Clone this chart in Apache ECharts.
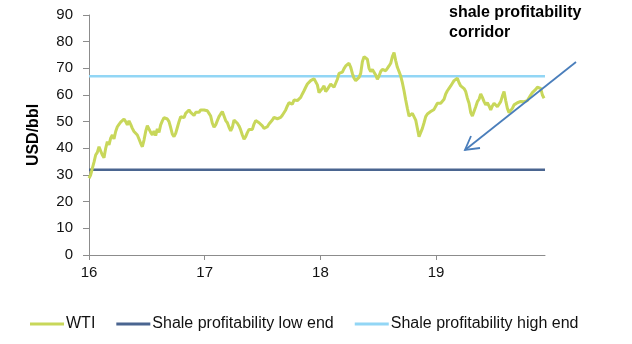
<!DOCTYPE html>
<html>
<head>
<meta charset="utf-8">
<script src="https://cdn.jsdelivr.net/npm/echarts@6/dist/echarts.min.js"></script>
<style>html,body{margin:0;padding:0;background:#fff}#c{width:632px;height:344px}</style>
</head>
<body>
<div id="c"></div>
<script>
// WTI sampled on an even grid of dates starting at the start of 2016 (axis unit = year, 16 = 2016)
var wtiStart = 16.0;
var wtiStep = 0.014406; // ~5.3 days
var wtiValues = [
28.8,30.0,32.5,34.8,37.5,38.5,40.6,41.3,37.5,36.5,40.0,42.5,41.3,43.8,45.0,43.5,46.3,48.1,49.0,49.8,
50.0,51.0,50.0,48.8,50.3,49.0,47.5,46.3,45.6,45.0,43.5,41.9,40.6,43.1,46.3,48.5,47.8,46.0,45.0,46.5,
44.8,47.3,46.0,48.8,50.3,51.5,51.9,51.0,50.0,47.8,45.3,44.4,45.6,47.8,50.0,51.9,52.3,51.5,53.1,53.8,
54.4,53.5,52.8,52.3,53.5,54.0,53.5,54.4,53.8,54.4,
54.4,54.1,53.1,52.1,49.4,47.9,48.8,50.4,51.9,52.9,53.8,52.1,50.4,49.6,47.9,46.6,47.9,50.6,50.9,49.4,
48.4,46.9,45.0,43.4,44.4,45.9,47.1,46.6,47.1,49.1,50.4,50.0,49.6,49.1,48.4,47.5,47.1,48.1,49.1,49.6,
50.6,51.6,51.9,51.1,50.6,51.6,52.4,53.1,54.4,55.9,57.1,57.1,56.6,58.1,58.8,57.9,57.9,59.1,60.4,61.6,
62.9,64.1,64.6,65.4,65.9,66.1,65.9,63.8,60.9,60.6,62.5,63.4,
61.3,62.1,61.9,64.1,64.6,62.9,63.1,65.9,68.1,68.6,68.6,69.9,70.9,71.6,71.9,70.4,68.1,66.3,65.4,65.6,
66.6,68.1,72.5,74.4,74.6,73.4,70.0,68.8,69.6,69.6,67.5,65.9,67.1,68.8,69.6,69.1,69.1,70.0,70.9,71.9,
74.4,75.9,72.9,70.4,68.8,67.1,64.6,61.6,58.1,55.0,52.1,52.1,53.1,53.1,50.6,47.5,44.4,44.0,47.5,49.6,
51.9,52.9,52.9,53.8,54.1,54.6,55.0,56.9,57.5,
56.9,57.1,58.4,60.4,61.6,62.5,63.4,64.4,65.4,65.9,66.3,64.6,63.4,62.9,62.4,61.3,58.8,56.9,53.4,52.1,
52.5,55.6,57.5,58.4,60.4,59.1,57.5,56.3,57.1,55.9,54.4,55.9,56.9,56.6,55.6,56.3,57.5,59.6,61.3,57.9,
55.0,53.4,53.8,55.0,56.3,56.9,57.1,56.6,57.6,58.1,57.5,57.1,57.9,58.4,60.0,60.9,61.3,62.1,62.9,63.6,
62.5,60.0,58.8];
var lowEnd = 32;
var highEnd = 67;
var xStart = 16, xEnd = 19.941;
var xTickLabels = ['16','17','18','19'];
var yTicks = [0,10,20,30,40,50,60,70,80,90];
var seriesNames = ['WTI','Shale profitability low end','Shale profitability high end'];
var annotation = 'shale profitability\ncorridor';
var colors = ['#c8d75a','#4a6590','#92d6f5'];

var wti = wtiValues.map(function(v,i){return [wtiStart + i*wtiStep, v];});
var chart = echarts.init(document.getElementById('c'), null, {renderer:'canvas'});
var font = 'Liberation Sans, Arial, sans-serif';
chart.setOption({
  animation:false,
  color: colors,
  grid:{left:89,right:87,top:15,bottom:89,containLabel:false},
  xAxis:{type:'value',min:xStart,max:xEnd,interval:1,
    axisLine:{lineStyle:{color:'#8c8c8c',width:1}},
    axisTick:{show:true,length:5,lineStyle:{color:'#8c8c8c'}},
    splitLine:{show:false},
    axisLabel:{color:'#111',fontSize:15,fontFamily:font,margin:10,showMaxLabel:false,
      formatter:function(v){var i=Math.round(v)-16;return xTickLabels[i]||'';}}},
  yAxis:{type:'value',min:yTicks[0],max:yTicks[yTicks.length-1],interval:10,
    name:'USD/bbl',nameLocation:'middle',nameGap:47,
    nameTextStyle:{fontWeight:'bold',fontSize:16,color:'#000',fontFamily:font},
    axisLine:{show:true,lineStyle:{color:'#8c8c8c',width:1}},
    axisTick:{show:true,length:6,lineStyle:{color:'#8c8c8c'}},
    splitLine:{show:false},
    axisLabel:{color:'#111',fontSize:15,fontFamily:font,margin:16}},
  legend:{top:311,left:25,itemWidth:34,itemHeight:3,itemGap:21,icon:'rect',
    textStyle:{fontSize:16,fontFamily:font,color:'#111',padding:[0,0,0,-3]},
    data:seriesNames},
  series:[
    {name:seriesNames[0],type:'line',data:wti,showSymbol:false,symbol:'none',lineStyle:{width:3,color:colors[0]},z:3},
    {name:seriesNames[1],type:'line',data:[[xStart,lowEnd],[xEnd,lowEnd]],symbol:'none',lineStyle:{width:2.5,color:colors[1]},z:2},
    {name:seriesNames[2],type:'line',data:[[xStart,highEnd],[xEnd,highEnd]],symbol:'none',lineStyle:{width:2.5,color:colors[2]},z:2}
  ],
  graphic:[
    {type:'text',left:449,top:3,style:{text:annotation,font:'bold 16px '+font,fill:'#000',lineHeight:20}},
    {type:'line',shape:{x1:576,y1:62,x2:465,y2:150},style:{stroke:'#4a7ebb',lineWidth:1.8},z:10},
    {type:'polyline',shape:{points:[[471,136],[465,150],[480,148]]},style:{stroke:'#4a7ebb',lineWidth:1.8,fill:null},z:10}
  ]
});
</script>
</body>
</html>
